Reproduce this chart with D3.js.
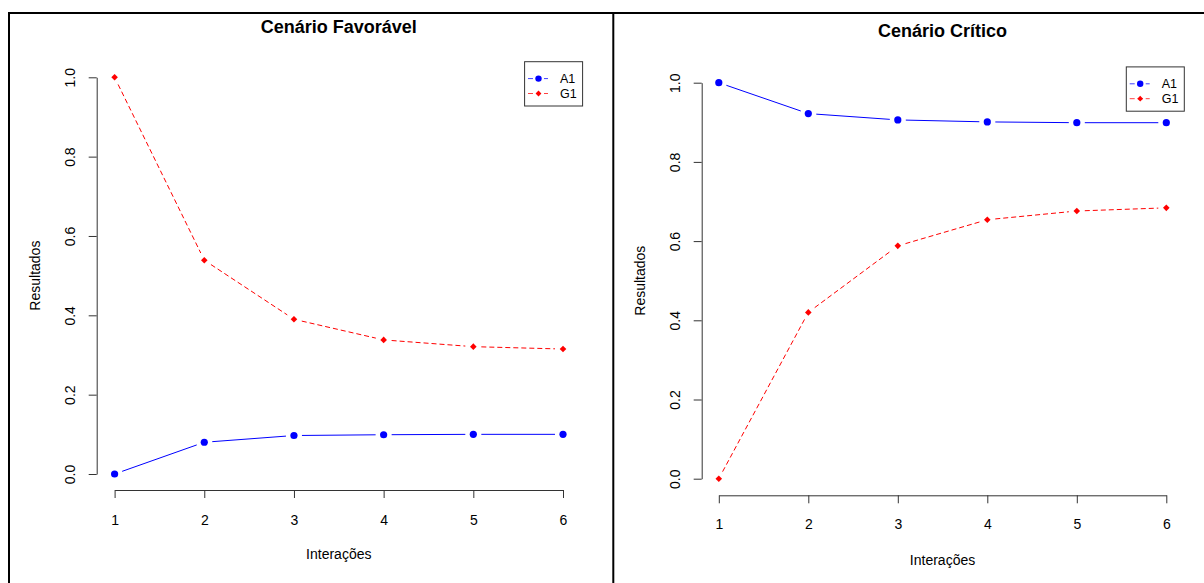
<!DOCTYPE html>
<html>
<head>
<meta charset="utf-8">
<script src="https://cdn.jsdelivr.net/npm/d3@7/dist/d3.min.js"></script>
<style>
  html, body { margin: 0; padding: 0; background: #fff; }
  svg { display: block; font-family: "Liberation Sans", Arial, sans-serif; }
</style>
</head>
<body>
<svg id="chart" width="1204" height="583"></svg>
<script>
// ---------------- DATA ----------------
const iteracoes = [1, 2, 3, 4, 5, 6];
const yTicks = [0.0, 0.2, 0.4, 0.6, 0.8, 1.0];
const seriesNames = ["A1", "G1"];

const favTitle = "Cenário Favorável";
const favA1 = [0.000, 0.080, 0.097, 0.099, 0.100, 0.100];
const favG1 = [1.000, 0.539, 0.390, 0.338, 0.321, 0.315];

const critTitle = "Cenário Crítico";
const critA1 = [1.000, 0.922, 0.906, 0.901, 0.899, 0.899];
const critG1 = [0.000, 0.420, 0.588, 0.654, 0.676, 0.684];

const xLabel = "Interações";
const yLabel = "Resultados";

// ---------------- LAYOUT ----------------
const svg = d3.select("#chart");
const BLUE = "#0000FF", RED = "#FF0000";

// outer frames
svg.append("path")
  .attr("d", "M9,583 V13 H1204 M613.3,13 V583")
  .attr("fill", "none").attr("stroke", "#000").attr("stroke-width", 2);

const panels = [
  { title: favTitle, a1: favA1, g1: favG1,
    xr: [114.6, 563], yr: [474, 77.3], xAxisY: 490, yAxisX: 96.7,
    titleY: 32.5, xTickBase: 524.5, xTitleY: 559, yTitleX: 35, yTickX: 70,
    leg: { x: 524.6, y: 61.7, w: 58, h: 44.3 } },
  { title: critTitle, a1: critA1, g1: critG1,
    xr: [718.8, 1166.3], yr: [478.7, 82.7], xAxisY: 495.3, yAxisX: 701.7,
    titleY: 37, xTickBase: 529.3, xTitleY: 564.5, yTitleX: 640, yTickX: 675.3,
    leg: { x: 1126.3, y: 66.9, w: 58, h: 44.3 } }
];

function segsB(pts, gap) {
  const out = [];
  for (let i = 0; i < pts.length - 1; i++) {
    const [x0, y0] = pts[i], [x1, y1] = pts[i + 1];
    const dx = x1 - x0, dy = y1 - y0, L = Math.hypot(dx, dy);
    if (L <= 2 * gap) continue;
    const ux = dx / L, uy = dy / L;
    out.push([[x0 + ux * gap, y0 + uy * gap], [x1 - ux * gap, y1 - uy * gap]]);
  }
  return out;
}

function diamond(g, cx, cy, r, color) {
  g.append("path")
    .attr("d", `M${cx},${cy - r} L${cx + r},${cy} L${cx},${cy + r} L${cx - r},${cy} Z`)
    .attr("fill", color);
}

panels.forEach(p => {
  const g = svg.append("g");
  const x = d3.scaleLinear().domain([1, 6]).range(p.xr);
  const y = d3.scaleLinear().domain([0, 1]).range(p.yr);

  // title
  g.append("text").attr("x", (p.xr[0] + p.xr[1]) / 2).attr("y", p.titleY)
    .attr("text-anchor", "middle").attr("font-weight", "bold")
    .attr("font-size", 18).attr("fill", "#000").text(p.title);

  // x axis
  const xa = g.append("g").attr("transform", `translate(0,${p.xAxisY})`)
    .call(d3.axisBottom(x).tickValues(iteracoes).tickSize(8).tickSizeOuter(0).tickFormat(d3.format("d")));
  xa.select(".domain").attr("stroke", "#333");
  xa.selectAll(".tick line").attr("stroke", "#333");
  xa.selectAll(".tick text").attr("y", p.xTickBase - p.xAxisY).attr("dy", 0)
    .attr("font-size", 14).attr("fill", "#000")
    .attr("font-family", "Liberation Sans, Arial, sans-serif");

  // y axis
  const ya = g.append("g").attr("transform", `translate(${p.yAxisX},0)`)
    .call(d3.axisLeft(y).tickValues(yTicks).tickSize(8).tickSizeOuter(0).tickFormat(d3.format(".1f")));
  ya.select(".domain").attr("stroke", "#333");
  ya.selectAll(".tick line").attr("stroke", "#333");
  ya.selectAll(".tick text")
    .attr("x", 0).attr("y", 0).attr("dy", "0.35em")
    .attr("text-anchor", "middle")
    .attr("transform", `translate(${p.yTickX - p.yAxisX},0) rotate(-90)`)
    .attr("font-size", 14).attr("fill", "#000")
    .attr("font-family", "Liberation Sans, Arial, sans-serif");

  // axis titles
  g.append("text").attr("x", (p.xr[0] + p.xr[1]) / 2).attr("y", p.xTitleY)
    .attr("text-anchor", "middle").attr("font-size", 14).attr("fill", "#000").text(xLabel);
  g.append("text")
    .attr("transform", `translate(${p.yTitleX},${(p.yr[0] + p.yr[1]) / 2}) rotate(-90)`)
    .attr("dy", "0.35em").attr("text-anchor", "middle")
    .attr("font-size", 14).attr("fill", "#000").text(yLabel);

  // series
  const series = [
    { vals: p.a1, color: BLUE, dash: null, marker: "circle" },
    { vals: p.g1, color: RED, dash: "5,3", marker: "diamond" }
  ];
  series.forEach(s => {
    const pts = iteracoes.map((it, i) => [x(it), y(s.vals[i])]);
    segsB(pts, 8).forEach(sg => {
      g.append("line")
        .attr("x1", sg[0][0]).attr("y1", sg[0][1])
        .attr("x2", sg[1][0]).attr("y2", sg[1][1])
        .attr("stroke", s.color).attr("stroke-width", 1)
        .attr("stroke-dasharray", s.dash);
    });
    pts.forEach(pt => {
      if (s.marker === "circle") {
        g.append("circle").attr("cx", pt[0]).attr("cy", pt[1]).attr("r", 3.6).attr("fill", s.color);
      } else {
        diamond(g, pt[0], pt[1], 3.3, s.color);
      }
    });
  });

  // legend
  const L = p.leg;
  const lg = g.append("g").attr("transform", `translate(${L.x},${L.y})`);
  lg.append("rect").attr("x", 0).attr("y", 0).attr("width", L.w).attr("height", L.h)
    .attr("fill", "#fff").attr("stroke", "#333").attr("stroke-width", 1);
  const legColors = [BLUE, RED];
  const rowY = [16.9, 31.8];
  seriesNames.forEach((name, i) => {
    lg.append("line").attr("x1", 3.4).attr("x2", 23.4).attr("y1", rowY[i]).attr("y2", rowY[i])
      .attr("stroke", legColors[i]).attr("stroke-width", 1).attr("stroke-dasharray", "5,3")
      .attr("stroke-opacity", 0.75);
    if (i === 0) {
      lg.append("circle").attr("cx", 13.9).attr("cy", rowY[i]).attr("r", 3.2).attr("fill", legColors[i]);
    } else {
      diamond(lg, 13.9, rowY[i], 2.9, legColors[i]);
    }
    lg.append("text").attr("x", 35.4).attr("y", rowY[i]).attr("dy", "0.36em")
      .attr("font-size", 12.5).attr("fill", "#000").text(name);
  });
});
</script>
</body>
</html>
